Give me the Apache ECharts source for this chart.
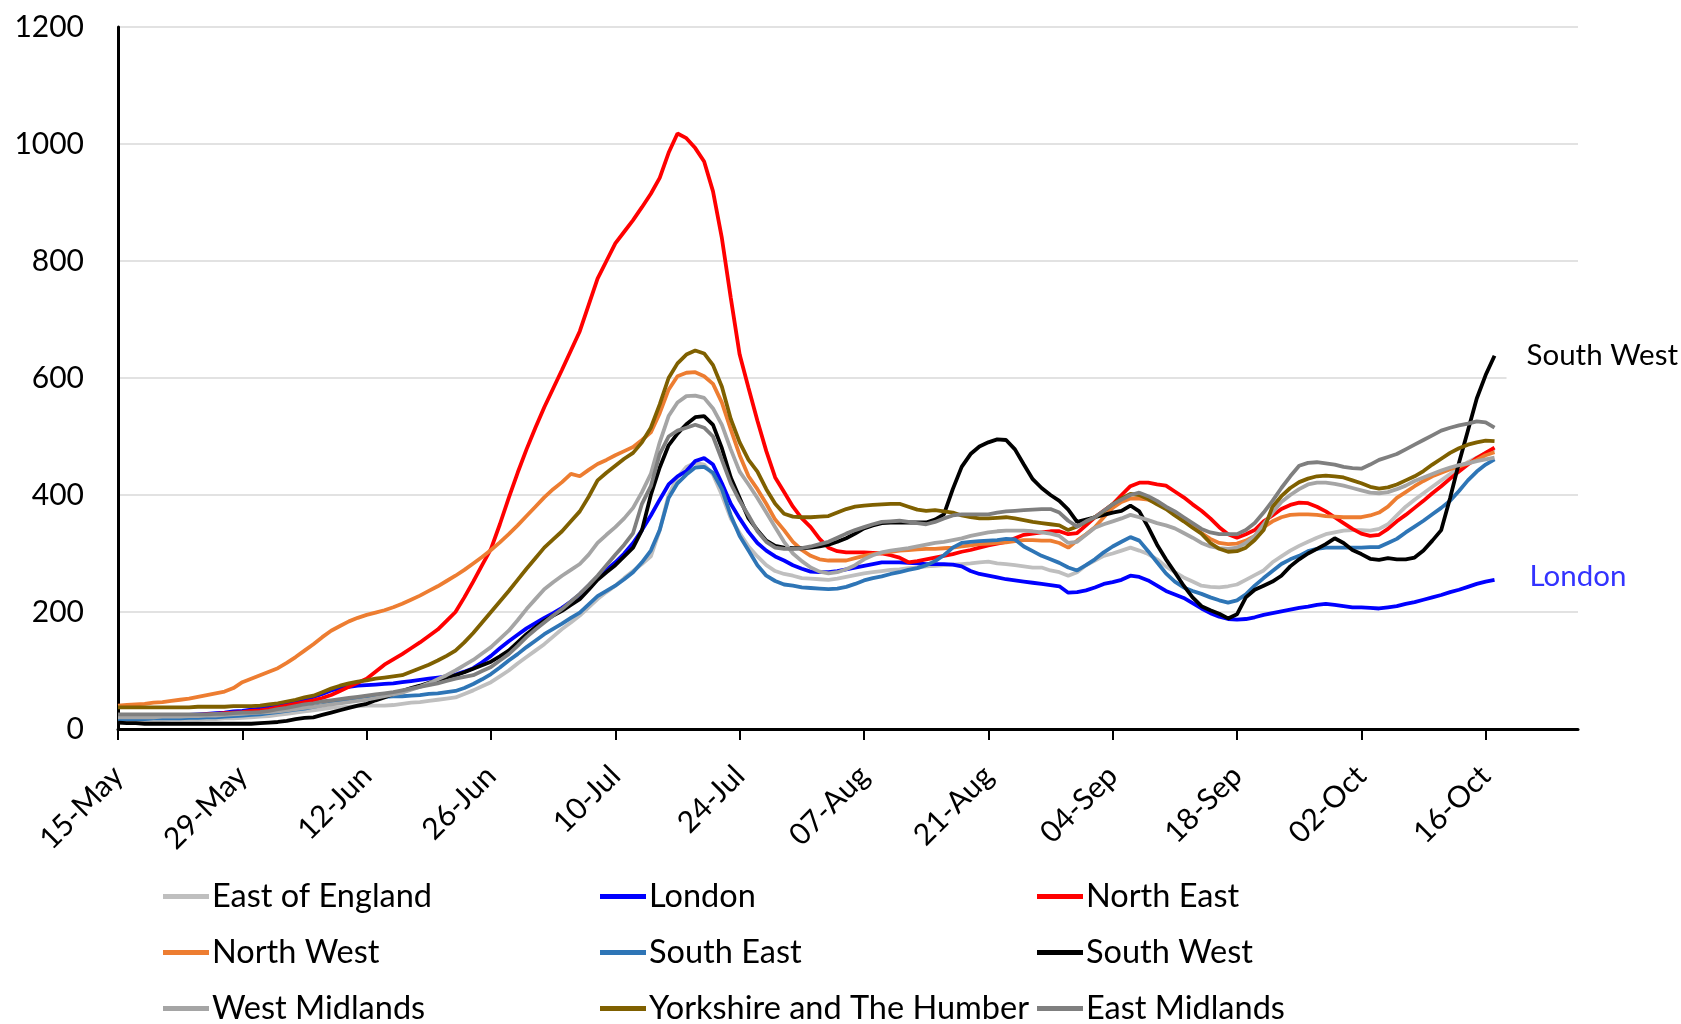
<!DOCTYPE html>
<html><head><meta charset="utf-8">
<script src="https://cdn.jsdelivr.net/npm/echarts@6/dist/echarts.min.js"></script>
<style>html,body{margin:0;padding:0;background:#fff}#c{width:1681px;height:1024px}</style>
</head><body><div id="c"></div>
<script>
// Days counted from 15-May (index 0) to 17-Oct (index 155)
const tickDays = [0,14,28,42,56,70,84,98,112,126,140,154];
const tickLabels = ['15-May','29-May','12-Jun','26-Jun','10-Jul','24-Jul','07-Aug','21-Aug','04-Sep','18-Sep','02-Oct','16-Oct'];
const seriesNames = ['East of England','London','North East','North West','South East','South West','West Midlands','Yorkshire and The Humber','East Midlands'];

const eastOfEngland = [15,15,15,15,15,15,16,16,16,16,17,17,18,18,
19,20,21,22,24,26,28,30,32,34,36,37,38,39,
40,40,40,41,43,45,46,48,50,52,54,60,66,73,
80,90,100,112,123,134,145,158,171,182,194,208,222,234,
245,258,270,282,295,340,400,430,448,455,452,435,400,360,
335,312,295,280,270,265,262,258,257,256,255,257,260,263,
266,268,270,272,273,275,276,278,279,280,281,282,283,285,
286,283,282,280,278,276,276,271,268,262,268,280,288,296,
300,305,310,305,299,290,278,268,259,252,245,243,242,244,
247,255,263,271,285,295,305,313,320,327,333,336,339,340,
340,339,342,350,365,380,392,403,414,425,436,447,456,464,
472,478];

const london = [20,20,21,21,22,22,23,23,24,25,26,27,28,30,
31,33,35,37,40,43,46,50,55,60,66,70,72,74,
75,76,77,78,80,82,84,86,88,90,93,98,104,114,
125,138,150,161,172,181,190,198,207,218,230,245,260,272,
285,300,318,340,365,392,418,432,441,458,463,452,420,385,
360,337,318,305,295,288,280,274,269,268,268,270,273,276,
279,282,285,285,285,284,283,282,282,282,281,278,270,265,
262,259,256,254,252,250,248,246,244,233,234,237,242,248,
251,255,262,260,254,245,236,230,224,215,206,198,192,188,
187,188,191,195,198,201,204,207,209,212,214,212,210,208,
208,207,206,208,210,214,217,221,225,229,234,238,243,248,
252,255];

const northEast = [20,20,21,21,21,22,22,23,23,24,25,26,27,28,
29,31,32,34,37,40,43,46,49,53,58,65,72,79,
86,98,110,119,128,138,148,159,170,185,200,225,252,280,
308,350,395,438,478,515,550,582,614,647,680,725,770,800,
830,850,870,892,915,942,985,1018,1010,993,970,919,839,737,
640,583,527,475,430,405,380,360,345,325,310,304,302,302,
302,301,300,297,293,285,287,290,293,296,299,303,306,310,
314,317,320,326,332,334,336,338,338,333,335,348,362,373,
384,400,415,421,421,418,416,406,396,384,373,360,345,333,
327,333,340,355,365,376,383,387,386,380,372,362,352,342,
334,330,332,342,355,366,378,390,403,415,428,440,452,463,
472,481];

const northWest = [40,41,42,43,45,46,48,50,52,55,58,61,64,70,
80,86,92,98,104,113,123,134,145,157,168,176,184,190,
195,199,203,208,214,221,228,236,244,253,262,272,283,294,
306,319,333,348,364,380,396,410,422,436,432,443,453,460,
468,475,482,494,507,540,580,603,609,610,603,590,558,512,
468,432,410,385,358,340,320,306,296,290,288,288,288,292,
296,299,301,303,305,306,307,308,308,309,310,312,314,316,
317,318,319,321,323,323,322,322,318,310,322,333,345,362,
378,388,394,394,392,386,378,368,358,346,335,325,318,316,
317,322,330,345,355,362,366,367,367,366,364,363,362,362,
362,365,370,380,395,405,415,424,432,438,444,449,454,460,
468,473];

const southEast = [17,17,17,17,18,18,18,18,19,19,20,20,21,22,
23,24,25,27,29,31,33,35,38,41,44,47,50,52,
54,55,55,56,56,57,58,60,61,63,65,70,77,85,
94,105,117,128,140,151,162,171,180,190,199,213,227,236,
245,256,268,285,305,340,395,420,435,447,448,438,410,365,
330,305,280,262,253,247,245,242,241,240,239,240,243,248,
254,258,261,265,268,272,275,280,287,297,310,318,320,321,
322,323,325,324,312,304,296,290,284,276,271,280,290,302,
312,320,328,322,304,285,266,252,242,236,231,225,220,216,
220,230,245,258,270,282,290,296,304,308,310,310,310,310,
310,311,311,318,325,336,346,356,367,378,390,407,425,440,
452,461];

const southWest = [11,10,10,9,9,9,9,9,9,9,9,9,9,9,
9,9,10,11,12,14,17,19,20,24,28,32,36,40,
43,49,54,60,65,70,74,79,83,88,92,97,103,109,
115,124,134,148,162,174,185,194,202,212,222,238,255,268,
280,295,310,340,400,447,485,505,521,533,535,520,480,430,
395,360,340,322,313,310,309,309,310,312,315,320,326,334,
343,348,352,353,353,353,353,353,358,367,410,448,470,483,
490,495,494,478,452,427,412,400,390,375,354,358,362,366,
370,373,382,372,345,315,290,268,245,225,210,203,197,189,
196,225,238,245,252,262,278,290,300,308,316,326,318,306,
299,291,289,292,290,290,293,305,322,340,395,455,510,565,
605,638];

const westMidlands = [20,20,20,20,20,21,21,21,22,22,23,23,24,25,
26,27,28,29,30,32,34,36,38,40,42,44,46,48,
50,53,56,59,62,67,72,78,85,92,100,109,118,129,
140,154,168,186,205,222,239,251,262,272,282,298,318,332,
345,360,378,405,436,490,535,558,569,570,566,548,520,478,
440,418,395,370,345,320,300,287,276,269,266,268,273,280,
290,297,302,305,307,309,312,315,318,320,323,326,330,333,
336,338,339,339,339,338,336,334,330,318,320,332,344,350,
355,360,366,362,357,352,348,343,335,327,318,312,309,308,
310,318,330,350,370,388,400,410,418,421,421,419,416,412,
408,404,403,405,410,416,424,430,436,442,447,451,454,458,
461,464];

const yorkshire = [37,37,37,37,37,37,37,37,37,38,38,38,38,39,
39,39,40,42,44,47,50,54,57,63,69,74,78,81,
83,86,88,90,92,98,104,110,117,125,134,148,164,182,
200,218,236,255,274,292,310,324,338,355,372,397,425,438,
450,462,472,490,515,555,600,625,640,647,642,622,585,530,
490,460,440,410,385,368,363,362,362,363,364,370,376,380,
382,383,384,385,385,380,375,373,374,372,370,365,362,360,
360,361,362,360,357,354,352,350,348,340,346,354,362,372,
384,394,402,400,393,384,376,365,355,344,334,318,308,303,
304,310,323,340,380,398,412,422,428,432,433,432,430,425,
420,414,411,413,418,425,432,441,452,462,472,480,486,490,
493,492];

const eastMidlands = [25,25,25,25,25,25,25,25,25,25,25,26,26,27,
28,28,29,31,34,36,39,42,44,47,49,51,53,55,
57,59,61,63,66,69,72,75,78,82,86,89,92,99,
106,117,128,142,157,170,182,194,205,218,231,246,262,280,
298,315,335,385,415,470,500,510,515,520,515,500,460,420,
390,365,338,320,310,308,308,309,312,316,320,327,334,340,
345,350,354,355,356,354,352,350,354,360,365,367,367,367,
367,370,372,373,374,375,376,376,370,356,346,355,362,373,
384,392,400,404,398,390,380,372,362,352,342,336,333,333,
333,340,352,370,390,412,432,450,455,456,454,452,448,446,
445,452,460,465,470,478,486,494,502,510,515,519,522,526,
524,515];

const seriesValues = [eastOfEngland, london, northEast, northWest, southEast, southWest, westMidlands, yorkshire, eastMidlands];

// ---- styling ----
const FONT = 'Lato';
const colors = ['#BFBFBF','#0000FF','#FF0000','#ED7D31','#2E75B6','#000000','#A5A5A5','#7F6000','#7F7F7F'];
const legendCols = [163, 600, 1037];
const legendRows = [880, 936, 992];

const series = seriesValues.map((vals, k) => {
  const s = {
    name: seriesNames[k],
    type: 'line',
    data: vals.map((v, i) => [i, v]),
    showSymbol: false,
    smooth: false,
    animation: false,
    lineStyle: { color: colors[k], width: 3.8 },
    itemStyle: { color: colors[k] },
    z: 2 + k
  };
  if (seriesNames[k] === 'South West') {
    s.endLabel = { show: true, formatter: '{a}', fontFamily: FONT, fontSize: 29.5, color: '#000',
      distance: 12, backgroundColor: '#fff', padding: [12, 8, 12, 20] };
  }
  if (seriesNames[k] === 'London') {
    s.endLabel = { show: true, formatter: '{a}', fontFamily: FONT, fontSize: 29.5, color: '#3333FF',
      distance: 35, offset: [0, -3] };
  }
  return s;
});

const legends = seriesNames.map((n, i) => ({
  data: [n],
  left: legendCols[i % 3],
  top: legendRows[Math.floor(i / 3)],
  icon: 'rect',
  itemWidth: 46,
  itemHeight: 5,
  itemGap: 0,
  padding: 0,
  selectedMode: false,
  textStyle: { fontFamily: FONT, fontSize: 32.5, color: '#000', padding: [0, 0, 0, -2] }
}));

const chart = echarts.init(document.getElementById('c'), null, { renderer: 'canvas' });
chart.setOption({
  animation: false,
  backgroundColor: '#fff',
  grid: { left: 118, right: 103, top: 27, bottom: 295, containLabel: false },
  legend: legends,
  xAxis: {
    type: 'value', min: 0, max: 164.4,
    splitLine: { show: false },
    axisLine: { show: true, lineStyle: { color: '#000', width: 3 } },
    axisTick: { show: true, customValues: tickDays, length: 11, lineStyle: { color: '#000', width: 2 } },
    axisLabel: { customValues: tickDays, rotate: 45, margin: 42, fontFamily: FONT, fontSize: 30, color: '#000',
      formatter: v => { const j = tickDays.indexOf(Math.round(v)); return j >= 0 ? tickLabels[j] : ''; } }
  },
  yAxis: {
    type: 'value', min: 0, max: 1200, interval: 200,
    axisLine: { show: true, lineStyle: { color: '#000', width: 3 } },
    axisTick: { show: false },
    axisLabel: { margin: 34, fontFamily: FONT, fontSize: 30, color: '#000', formatter: v => String(v) },
    splitLine: { show: true, lineStyle: { color: '#D9D9D9', width: 1.5 } }
  },
  series: series
});
</script>
</body></html>
